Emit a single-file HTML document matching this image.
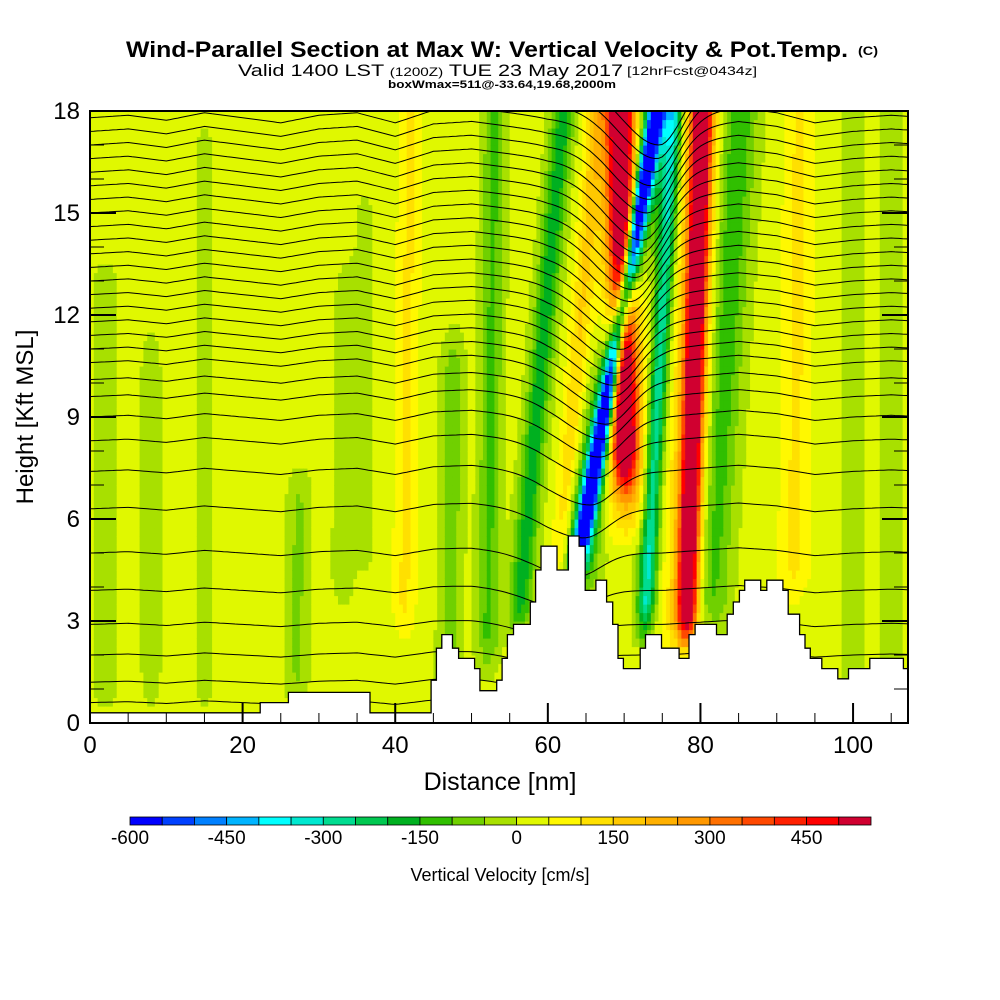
<!DOCTYPE html>
<html><head><meta charset="utf-8">
<style>
html,body{margin:0;padding:0;background:#fff;}
svg{display:block;font-family:"Liberation Sans",sans-serif;}
</style></head>
<body>
<svg id="chart" width="1000" height="1000" viewBox="0 0 1000 1000" xmlns="http://www.w3.org/2000/svg">
<rect width="1000" height="1000" fill="#fff"/>
<g font-weight="bold">
<text x="126" y="57" font-size="22" textLength="722" lengthAdjust="spacingAndGlyphs">Wind-Parallel Section at Max W: Vertical Velocity &amp; Pot.Temp.</text>
<text x="858" y="55" font-size="12" textLength="20" lengthAdjust="spacingAndGlyphs">(C)</text>
</g>
<text x="238" y="76" font-size="17" textLength="385" lengthAdjust="spacingAndGlyphs">Valid 1400 LST <tspan font-size="12">(1200Z)</tspan> TUE 23 May 2017</text>
<text x="627" y="75" font-size="12" textLength="130" lengthAdjust="spacingAndGlyphs">[12hrFcst@0434z]</text>
<text x="388" y="88" font-size="11" font-weight="bold" textLength="228" lengthAdjust="spacingAndGlyphs">boxWmax=511@-33.64,19.68,2000m</text>
<defs><clipPath id="plotclip"><rect x="90" y="111" width="818" height="612"/></clipPath></defs>
<g id="field" clip-path="url(#plotclip)"></g>
<g id="contours" clip-path="url(#plotclip)"></g>
<g id="terrain" clip-path="url(#plotclip)"></g>
<rect x="90" y="111" width="818" height="612" fill="none" stroke="#000" stroke-width="2"/>
<g id="axes"></g>
<text x="500" y="790" font-size="25" text-anchor="middle">Distance [nm]</text>
<text transform="translate(33,417) rotate(-90)" font-size="24" text-anchor="middle">Height [Kft MSL]</text>
<g id="colorbar"></g>
<text x="500" y="881" font-size="18" text-anchor="middle">Vertical Velocity [cm/s]</text>
</svg>
<script>
// ---- data ----
const colorBins = ["#0000ff","#0040ff","#0080ff","#00b4ff","#00ffff","#00e8d0","#00dc90","#00c850","#00b020","#30bf00","#70d000","#a8e000","#e0f800","#fff800","#ffe000","#ffc800","#ffb000","#ff9800","#ff7000","#ff4800","#ff2000","#ff0000","#d00030"];
const cbLabels = [-600,-450,-300,-150,0,150,300,450];
const xTicks = [0,20,40,60,80,100];
const yTicks = [0,3,6,9,12,15,18];
// velocity features: center at z=0, center at z=18 (nm), width (nm), amplitude (cm/s), zMin, zMax (kft)
const featX0   = [60.3,60.3,70.5,70.5,77.8,77.8,72,55,60,80,52,41,92,2,8,27,33,47,100,105,15,36];
const featXTop = [74.3,74.3,69.5,69.5,80.2,80.2,76.5,62,66.5,85,53,42,93,2,8,28,34,48,100,105,15,36];
const featW    = [1.0,2.3,1.6,3.0,1.2,2.6,1.2,1.5,1.3,2.5,1.5,1.5,2,1.5,1.2,1.5,1.5,1.5,1.5,1.5,1.2,1.2];
const featAmp  = [-640,-260,580,200,580,210,-330,-200,130,-170,-130,90,90,-70,-60,-80,-60,-100,-70,-70,-55,-55];
const featZMin = [4,3,6.5,5,2,1.5,2,2,2,2,1,2,3,0,0,0,3,0,0,0,0,4];
const featZMax = [20,20,20,20,20,20,20,20,20,20,20,20,20,14,12,8,14,12,20,20,18,16];
const bgW = 20;
// terrain steps: start distance (nm), height (kft)
const terrX = [0,22.3,26,36.7,44.7,45.4,46.1,47.5,48.3,50.4,51.1,53.3,54.0,54.7,55.5,57.7,58.4,59.1,61.2,62.7,64.1,64.9,66.3,67.7,68.5,69.2,69.9,72.1,72.8,74.9,77.2,78.5,79.3,82.1,83.5,84.3,85.1,85.8,87.9,88.7,90.8,91.5,93.0,93.7,94.4,95.9,98.0,99.4,102.2,106.6];
const terrH = [0.3,0.6,0.9,0.3,1.26,2.2,2.6,2.2,1.9,1.6,0.95,1.26,1.9,2.6,2.9,3.56,4.5,5.2,4.5,5.5,5.2,3.9,4.2,3.56,2.9,1.9,1.6,2.2,2.6,2.2,1.9,2.6,2.9,2.6,3.2,3.56,3.9,4.2,3.9,4.2,3.9,3.2,2.6,2.2,1.9,1.6,1.3,1.6,1.9,1.6];
// potential temperature contour base heights (kft)
const thetaLevels = [0.6,1.2,2.0,2.9,3.9,5.0,6.3,7.4,8.3,9.0,9.6,10.1,10.6,11.0,11.4,11.8,12.2,12.6,13.0,13.4,13.8,14.2,14.6,15.0,15.4,15.8,16.2,16.6,17.0,17.4,17.8,18.2,18.6,19.0];
// weak background wiggle of isentropes every 5 nm (kft)
const wiggle = [0,0.05,-0.05,0.1,0,-0.1,0.05,0.1,-0.1,0.15,0.2,0.1,0,0,0,0,0.1,0.2,0.1,-0.1,0,0.05];

// ---- axes functions ----
const X0=90, X1=908, Y0=723, Y1=111, XMAX=107.2, ZMAX=18;
const sx = x => X0 + x/XMAX*(X1-X0);
const sy = z => Y0 - z/ZMAX*(Y0-Y1);
const NS="http://www.w3.org/2000/svg";
function mk(tag, attrs, parent){const e=document.createElementNS(NS,tag);for(const k in attrs)e.setAttribute(k,attrs[k]);parent.appendChild(e);return e;}

function wAt(x,z){
  let w=bgW;
  for(let i=0;i<featX0.length;i++){
    const xc=featX0[i]+(featXTop[i]-featX0[i])*z/18;
    const d=(x-xc)/featW[i];
    let t=Math.min(1,Math.max(0,(z-featZMin[i])/1.5))*Math.min(1,Math.max(0,(featZMax[i]-z)/1.5));
    w+=featAmp[i]*Math.exp(-d*d)*t;
  }
  return w;
}
function colorFor(w){let k=Math.floor((w+600)/50);k=Math.max(0,Math.min(colorBins.length-1,k));return colorBins[k];}

// ---- field ----
const field=document.getElementById('field');
const dx=0.5, dz=0.25;
for(let x=0;x<XMAX;x+=dx){
  for(let z=0;z<ZMAX;z+=dz){
    const r=mk('rect',{x:sx(x).toFixed(2),y:sy(z+dz).toFixed(2),width:(sx(dx)-X0+0.6).toFixed(2),height:(sy(0)-sy(dz)+0.6).toFixed(2),fill:colorFor(wAt(x+dx/2,z+dz/2))},field);
    
    
  }
}

// ---- contours ----
const cont=document.getElementById('contours');
function blueX(z){return featX0[0]+(featXTop[0]-featX0[0])*z/18;}
thetaLevels.forEach(b=>{
  const D=Math.min(2.0,0.1+b*0.12);
  let pts=[];
  for(let x=0;x<=XMAX+0.5;x+=0.5){
    const xb=blueX(b)-0.5;
    const s=x<xb?7:4.5;
    const g=Math.exp(-Math.pow((x-xb)/s,2));
    const wi=Math.floor(x/5), f=x/5-wi;
    const wg=(wiggle[wi]||0)*(1-f)+(wiggle[wi+1]||0)*f;
    const z=b-D*g+wg*(0.5+b/18);
    pts.push(sx(x).toFixed(1)+','+sy(z).toFixed(1));
  }
  const p=mk('polyline',{points:pts.join(' '),fill:'none',stroke:'#000','stroke-width':'1'},cont);
  
  
});

// ---- terrain ----
const ter=document.getElementById('terrain');
let tp=[sx(0)+','+sy(0)];
for(let i=0;i<terrX.length;i++){
  const xa=terrX[i], xb2=(i+1<terrX.length)?terrX[i+1]:XMAX+1;
  tp.push(sx(xa).toFixed(1)+','+sy(terrH[i]).toFixed(1));
  tp.push(sx(xb2).toFixed(1)+','+sy(terrH[i]).toFixed(1));
}
tp.push(sx(XMAX+1)+','+sy(0));
const tpoly=mk('polygon',{points:tp.join(' '),fill:'#fff',stroke:'#000','stroke-width':'1.3'},ter);



// ---- axes ----
const ax=document.getElementById('axes');
for(let x=0;x<=105;x+=5){
  const major=x%20===0, L=major?20:10;
  const t=mk('line',{x1:sx(x),x2:sx(x),y1:Y0,y2:Y0-L,stroke:'#000','stroke-width':major?2:1},ax);
  
  
}
xTicks.forEach(v=>{
  const t=mk('text',{x:sx(v),y:753,'font-size':24,'text-anchor':'middle'},ax);
  t.textContent=v;
  
  
});
for(let z=0;z<=18;z+=1){
  const major=z%3===0, L=major?26:14;
  [[X0,X0+L],[X1,X1-L]].forEach(([a,b])=>{
    const t=mk('line',{x1:a,x2:b,y1:sy(z),y2:sy(z),stroke:'#000','stroke-width':major?2:1},ax);
    
    
  });
}
yTicks.forEach(v=>{
  const t=mk('text',{x:80,y:sy(v)+8,'font-size':24,'text-anchor':'end'},ax);
  t.textContent=v;
  
  
});

// ---- colorbar ----
const cb=document.getElementById('colorbar');
const CB0=130, CB1=871, cw=(CB1-CB0)/colorBins.length;
colorBins.forEach((c,i)=>{
  const r=mk('rect',{x:CB0+i*cw,y:817,width:cw,height:8,fill:c,stroke:'#000','stroke-width':0.8},cb);
  
  
});
cbLabels.forEach(v=>{
  const t=mk('text',{x:CB0+(v+600)/50*cw,y:844,'font-size':19,'text-anchor':'middle'},cb);
  t.textContent=v;
  
  
});
</script>
</body></html>
